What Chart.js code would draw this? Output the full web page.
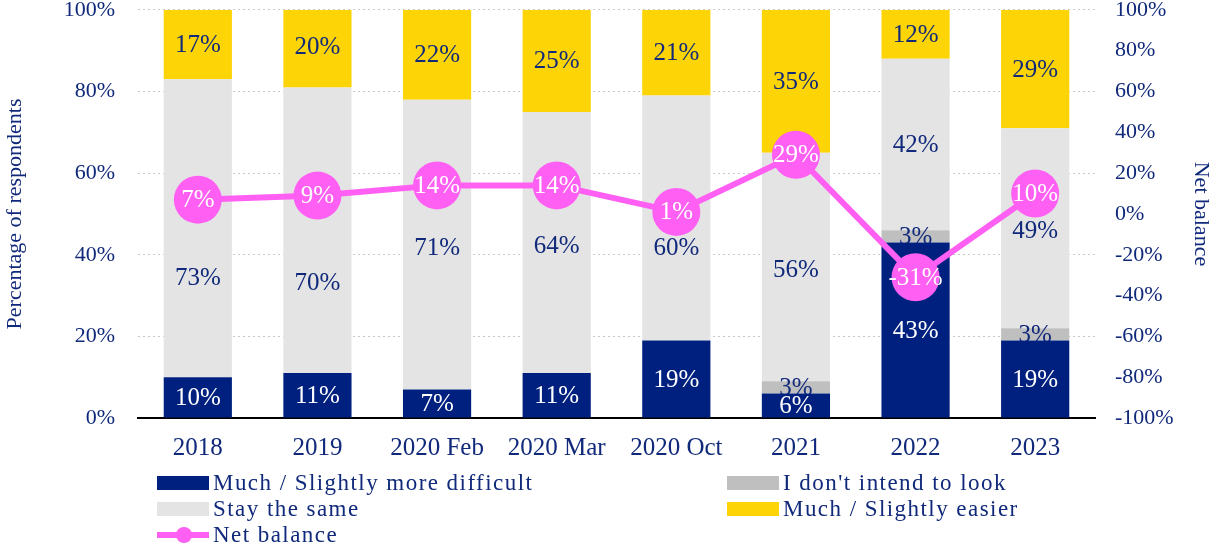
<!DOCTYPE html>
<html>
<head>
<meta charset="utf-8">
<script src="https://cdn.jsdelivr.net/npm/chart.js@4.4.0/dist/chart.umd.min.js"></script>
<style>
  body { margin: 0; background: #fff; }
  #wrap { position: relative; width: 1214px; height: 544px; }
  .sw { position: absolute; width: 52px; height: 14px; }
  .lt { position: absolute; font: 23px "Liberation Serif", "Times New Roman", serif; letter-spacing: 1.45px; color: #10297a; line-height: 26px; white-space: nowrap; }
</style>
</head>
<body>
<div id="wrap">
  <canvas id="chart" width="1214" height="544"></canvas>

  <div class="sw" style="left:157px;top:476px;background:#00207f"></div>
  <div class="lt" style="left:213px;top:470px">Much / Slightly more difficult</div>
  <div class="sw" style="left:727px;top:476px;background:#bfbfbf"></div>
  <div class="lt" style="left:783px;top:470px">I don't intend to look</div>
  <div class="sw" style="left:157px;top:502px;background:#e4e4e4"></div>
  <div class="lt" style="left:213px;top:496px">Stay the same</div>
  <div class="sw" style="left:727px;top:502px;background:#fdd405"></div>
  <div class="lt" style="left:783px;top:496px">Much / Slightly easier</div>
  <div class="sw" style="left:157px;top:532px;height:6px;background:#ff5ff2"></div>
  <div style="position:absolute;left:176px;top:527px;width:16px;height:16px;border-radius:50%;background:#ff5ff2"></div>
  <div class="lt" style="left:213px;top:522px">Net balance</div>
</div>

<script>
// categories and values
const labels = ['2018', '2019', '2020 Feb', '2020 Mar', '2020 Oct', '2021', '2022', '2023'];
const moreDifficult = [10, 11, 7, 11, 19, 6, 43, 19];
const dontIntend = [0, 0, 0, 0, 0, 3, 3, 3];
const staySame = [73, 70, 71, 64, 60, 56, 42, 49];
const easier = [17, 20, 22, 25, 21, 35, 12, 29];
const netBalance = [7, 9, 14, 14, 1, 29, -31, 10];

const textColor = '#10297a';
const serif = '"Liberation Serif", "Times New Roman", serif';

// some "stay the same" labels sit lower in the original, away from the circles
const stayNudge = [49, 52, 3, 3, 29, 2, 0, 2];

// draws the value labels on top of each dataset right after it is drawn
const valueLabels = {
    id: 'valueLabels',
    afterDatasetDraw(chart, args) {
        const ds = chart.data.datasets[args.index];
        const ctx = chart.ctx;
        ctx.save();
        ctx.font = '25px ' + serif;
        ctx.textAlign = 'center';
        ctx.textBaseline = 'middle';
        ctx.fillStyle = ds.labelColor;
        args.meta.data.forEach((el, i) => {
            const v = ds.data[i];
            if (!v) return;
            const c = el.getCenterPoint();
            const dy = ds.labelNudge ? ds.labelNudge[i] : 0;
            ctx.fillText(v + '%', c.x, c.y + dy + 1);
        });
        ctx.restore();
    }
};

const ctx = document.getElementById('chart').getContext('2d');
new Chart(ctx, {
    type: 'bar',
    data: {
        labels: labels,
        datasets: [
            {
                type: 'line',
                label: 'Net balance',
                data: netBalance,
                yAxisID: 'y2',
                order: -1,
                borderColor: '#ff5ff2',
                backgroundColor: '#ff5ff2',
                borderWidth: 6,
                pointRadius: 24,
                pointHoverRadius: 24,
                pointBorderWidth: 0,
                pointBackgroundColor: '#ff5ff2',
                tension: 0,
                labelColor: '#ffffff'
            },
            {
                label: 'Much / Slightly more difficult',
                data: moreDifficult,
                backgroundColor: '#00207f',
                labelColor: '#ffffff'
            },
            {
                label: "I don't intend to look",
                data: dontIntend,
                backgroundColor: '#bfbfbf',
                labelColor: textColor
            },
            {
                label: 'Stay the same',
                data: staySame,
                backgroundColor: '#e4e4e4',
                labelColor: textColor,
                labelNudge: stayNudge
            },
            {
                label: 'Much / Slightly easier',
                data: easier,
                backgroundColor: '#fdd405',
                labelColor: textColor
            }
        ]
    },
    options: {
        responsive: false,
        animation: false,
        layout: { padding: 0, autoPadding: false },
        datasets: {
            bar: { categoryPercentage: 1, barPercentage: 0.57, borderWidth: 0 }
        },
        plugins: {
            legend: { display: false },
            tooltip: { enabled: false }
        },
        scales: {
            x: {
                stacked: true,
                grid: { display: false },
                border: { display: true, color: '#000000', width: 2 },
                ticks: { color: textColor, font: { family: serif, size: 25 }, padding: 7 },
                afterFit: function (scale) { scale.height = 126; }
            },
            y: {
                stacked: true,
                min: 0,
                max: 100,
                ticks: {
                    stepSize: 20,
                    color: textColor,
                    padding: 0,
                    font: { family: serif, size: 22, lineHeight: 0.9 },
                    callback: v => v + '%'
                },
                // invisible tick marks push the labels away from the plot
                grid: { color: '#c8c8c8', lineWidth: 1, drawTicks: true, tickLength: 23, tickColor: 'rgba(0,0,0,0)' },
                border: { display: false, dash: [2, 3] },
                title: {
                    display: true,
                    text: 'Percentage of respondents',
                    color: textColor,
                    font: { family: serif, size: 22 },
                    padding: { top: 2, bottom: 0 }
                },
                afterFit: function (scale) { scale.width = 138; }
            },
            y2: {
                position: 'right',
                min: -100,
                max: 100,
                ticks: {
                    stepSize: 20,
                    color: textColor,
                    padding: 0,
                    font: { family: serif, size: 22, lineHeight: 0.9 },
                    callback: v => v + '%'
                },
                grid: { display: true, color: 'rgba(0,0,0,0)', drawOnChartArea: false, drawTicks: true, tickLength: 20, tickColor: 'rgba(0,0,0,0)' },
                border: { display: false },
                title: {
                    display: true,
                    text: 'Net balance',
                    color: textColor,
                    font: { family: serif, size: 22 },
                    padding: { top: 0, bottom: 2 }
                },
                afterFit: function (scale) { scale.width = 119; }
            }
        }
    },
    plugins: [valueLabels]
});
</script>
</body>
</html>
